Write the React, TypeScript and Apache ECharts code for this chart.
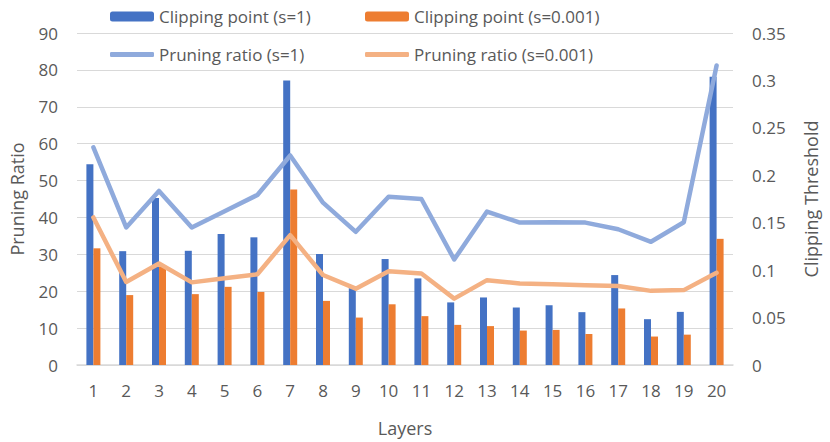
import React, { useEffect, useRef } from "react";
import * as echarts from "echarts";

const layers = ["1","2","3","4","5","6","7","8","9","10","11","12","13","14","15","16","17","18","19","20"];
const clipS1 = [0.2116,0.120,0.176,0.1204,0.138,0.1346,0.300,0.117,0.081,0.1117,0.0913,0.066,0.0712,0.0606,0.063,0.0557,0.0948,0.0483,0.056,0.304];
const clipS0001 = [0.123,0.0737,0.1035,0.0747,0.0824,0.077,0.185,0.0676,0.050,0.064,0.0515,0.0423,0.041,0.0363,0.037,0.0327,0.0596,0.030,0.032,0.133];
const pruneS1 = [59.0,37.3,47.2,37.3,41.7,46.1,56.8,44.0,36.1,45.6,45.0,28.6,41.6,38.6,38.7,38.6,36.8,33.4,38.7,81.2];
const pruneS0001 = [40.0,22.5,27.5,22.4,23.5,24.6,35.2,24.4,20.7,25.4,24.8,18.0,23.0,22.1,21.9,21.6,21.4,20.1,20.3,25.0];

const FONT = "Open Sans";
const TXT = "#595959";

export default function App() {
  const ref = useRef<HTMLDivElement>(null);
  useEffect(() => {
    document.body.style.margin = "0";
    const chart = echarts.init(ref.current!, null, { renderer: "svg" });
    const legendBase = {
      orient: "horizontal",
      itemWidth: 44,
      itemHeight: 10,
      padding: 0,
      textStyle: { color: TXT, fontSize: 17, fontFamily: FONT },
    };
    chart.setOption({
      animation: false,
      textStyle: { fontFamily: FONT },
      grid: { left: 77, right: 97, top: 33, bottom: 77 },
      legend: [
        { ...legendBase, left: 110, top: 8, data: ["Clipping point (s=1)"] },
        { ...legendBase, left: 365, top: 8, data: ["Clipping point (s=0.001)"] },
        { ...legendBase, left: 110, top: 46, itemHeight: 5, data: [{ name: "Pruning ratio (s=1)", icon: "roundRect" }] },
        { ...legendBase, left: 365, top: 46, itemHeight: 5, data: [{ name: "Pruning ratio (s=0.001)", icon: "roundRect" }] },
      ],
      xAxis: {
        type: "category",
        data: layers,
        name: "Layers",
        nameLocation: "middle",
        nameGap: 54,
        nameTextStyle: { color: TXT, fontSize: 18, fontFamily: FONT },
        axisLine: { lineStyle: { color: "#D9D9D9", width: 1.5 } },
        axisTick: { show: false },
        axisLabel: { color: TXT, fontSize: 17, fontFamily: FONT, margin: 17 },
      },
      yAxis: [
        {
          type: "value",
          min: 0,
          max: 90,
          interval: 10,
          name: "Pruning Ratio",
          nameLocation: "middle",
          nameGap: 51,
          nameTextStyle: { color: TXT, fontSize: 18, fontFamily: FONT },
          axisLine: { show: false },
          axisTick: { show: false },
          axisLabel: { color: TXT, fontSize: 17, fontFamily: FONT, margin: 19 },
          splitLine: { lineStyle: { color: "#D9D9D9", width: 1 } },
        },
        {
          type: "value",
          min: 0,
          max: 0.35,
          interval: 0.05,
          name: "Clipping Threshold",
          nameLocation: "middle",
          nameGap: 69,
          nameRotate: 90,
          nameTextStyle: { color: TXT, fontSize: 18, fontFamily: FONT },
          axisLine: { show: false },
          axisTick: { show: false },
          axisLabel: { color: TXT, fontSize: 17, fontFamily: FONT, margin: 19 },
          splitLine: { show: false },
        },
      ],
      series: [
        {
          name: "Clipping point (s=1)",
          type: "bar",
          yAxisIndex: 1,
          data: clipS1,
          barWidth: 7,
          barGap: "0%",
          itemStyle: { color: "#4472C4" },
        },
        {
          name: "Clipping point (s=0.001)",
          type: "bar",
          yAxisIndex: 1,
          data: clipS0001,
          barWidth: 7,
          barGap: "0%",
          itemStyle: { color: "#ED7D31" },
        },
        {
          name: "Pruning ratio (s=1)",
          type: "line",
          yAxisIndex: 0,
          data: pruneS1,
          symbol: "none",
          lineStyle: { color: "#8FAADC", width: 4.5, cap: "round", join: "round" },
          itemStyle: { color: "#8FAADC" },
        },
        {
          name: "Pruning ratio (s=0.001)",
          type: "line",
          yAxisIndex: 0,
          data: pruneS0001,
          symbol: "none",
          lineStyle: { color: "#F4B183", width: 4.5, cap: "round", join: "round" },
          itemStyle: { color: "#F4B183" },
        },
      ],
    });
    return () => chart.dispose();
  }, []);
  return <div ref={ref} style={{ width: 830, height: 442 }} />;
}
